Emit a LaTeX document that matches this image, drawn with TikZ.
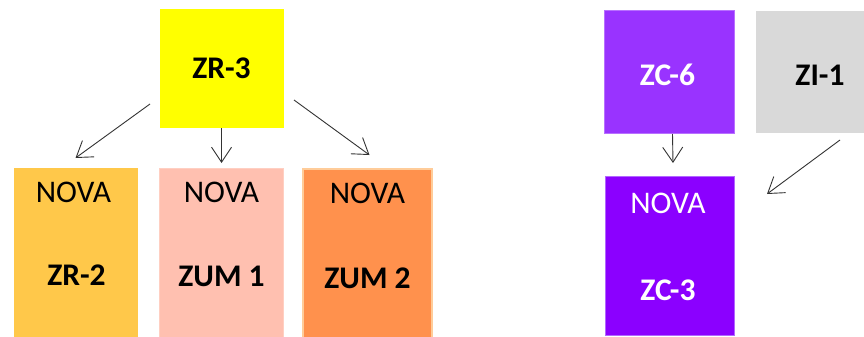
\documentclass[tikz,border=0pt]{standalone}
\usepackage{fontspec}
\setmainfont{Carlito}
\usetikzlibrary{arrows.meta,calc}
\definecolor{zyellow}{HTML}{FFFF00}
\definecolor{zgold}{HTML}{FFC84A}
\definecolor{zpink}{HTML}{FFC0B0}
\definecolor{zpinkline}{HTML}{FFCFC2}
\definecolor{zorange}{HTML}{FF914D}
\definecolor{zorangeline}{HTML}{FFCC99}
\definecolor{zviolet}{HTML}{9933FF}
\definecolor{zvioletline}{HTML}{B870FF}
\definecolor{zpurple}{HTML}{8B00FF}
\definecolor{zpurpleline}{HTML}{B266FF}
\definecolor{zgrey}{HTML}{D9D9D9}
\definecolor{arrowgrey}{HTML}{333333}
\tikzset{
  box/.style={rectangle, anchor=north west, inner sep=0pt, line width=1pt},
  plain/.style={font=\fontsize{31.5}{37}\selectfont, inner sep=0pt, anchor=center},
  tag/.style={font=\fontsize{31.5}{37}\selectfont\bfseries, inner sep=0pt, anchor=center},
  link/.style={draw=arrowgrey, line width=0.9pt, -{Straight Barb[length=15pt,width=20pt,line width=0.9pt]}}
}
\begin{document}
\begin{tikzpicture}[x=1pt,y=-1pt]
\useasboundingbox (0,0) rectangle (864,337);
% boxes
\node[box, fill=zyellow, minimum width=124pt, minimum height=118pt] (zr3) at (159,9) {};
\node[box, fill=zgold, minimum width=124pt, minimum height=172pt] (zr2) at (13,167) {};
\node[box, fill=zpink, draw=zpinkline, minimum width=124pt, minimum height=172pt] (zum1) at (159,168) {};
\node[box, fill=zorange, draw=zorangeline, line width=2pt, minimum width=129pt, minimum height=172pt] (zum2) at (302,168) {};
\node[box, fill=zviolet, draw=zvioletline, minimum width=130pt, minimum height=123pt] (zc6) at (604,10) {};
\node[box, fill=zgrey, minimum width=112pt, minimum height=121pt] (zi1) at (755,11) {};
\node[box, fill=zpurple, draw=zpurpleline, minimum width=129pt, minimum height=159pt] (zc3) at (605,176) {};
% labels
\node[tag] (tzr3) at ($(zr3.north)+(0,59)$) {ZR-3};
\node[plain] (nzr2) at ($(zr2.north)+(-2,25)$) {NOVA};
\node[tag] (tzr2) at ($(zr2.north)+(1,108)$) {ZR-2};
\node[plain] (nzum1) at ($(zum1.north)+(0,24)$) {NOVA};
\node[tag] (tzum1) at ($(zum1.north)+(0,108)$) {ZUM 1};
\node[plain] (nzum2) at ($(zum2.north)+(0,25)$) {NOVA};
\node[tag] (tzum2) at ($(zum2.north)+(0,110)$) {ZUM 2};
\node[tag, text=white] (tzc6) at ($(zc6.north)+(-2,65)$) {ZC-6};
\node[tag] (tzi1) at ($(zi1.north west)+(65,64)$) {ZI-1};
\node[plain, text=white] (nzc3) at ($(zc3.north)+(-2,27)$) {NOVA};
\node[tag, text=white] (tzc3) at ($(zc3.north)+(-2,114)$) {ZC-3};
% connectors
\draw[link] ($(zr3.south west)+(-9,-24)$) -- ($(zr2.north)+(0,-9)$);
\draw[link] ($(zr3.south)+(0,0)$) -- ($(zum1.north)+(0,-5)$);
\draw[link] ($(zr3.south east)+(10,-28)$) -- ($(zum2.north)+(2,-13)$);
\draw[link] ($(zc6.south)+(3,0)$) -- ($(zc3.north)+(3,-13)$);
\draw[link] ($(zi1.south west)+(85,7)$) -- ($(zc3.north east)+(32,18)$);
\end{tikzpicture}
\end{document}
